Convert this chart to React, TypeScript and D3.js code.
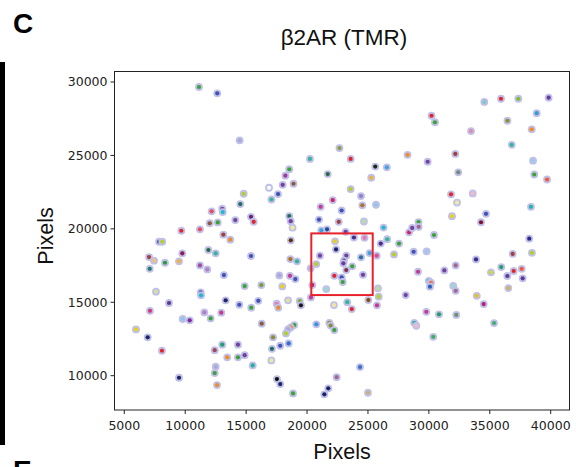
import React, { useEffect } from 'react';
import * as d3 from 'd3';

const xTicks = [5000, 10000, 15000, 20000, 25000, 30000, 35000, 40000];
const yTicks = [10000, 15000, 20000, 25000, 30000];

const pointX = [
  11130, 12630, 14470, 14800, 14520, 12170, 13040, 13080, 14110, 15400,
  15620, 12010, 12670, 9680, 11210, 13130, 13700, 7850, 8120, 16880,
  17080, 17620, 18000, 18220, 18540, 18890, 20240, 21700, 22660, 23580,
  28250, 25600, 26550, 25270, 23580, 24430, 22110, 21120, 22840, 24540,
  25660, 18540, 18660, 18810, 20980, 22600, 24670, 21640, 21170, 23170,
  26280, 26580, 28370, 28630, 18670, 22300, 23850, 24720, 26050, 27550,
  34550, 35920, 37340, 39830, 30220, 30500, 38850, 36450, 38440, 33460,
  36800, 32170, 29900, 38550, 32410, 38650, 39700, 31820, 33600, 32310,
  31900, 34690, 34280, 38380, 29150, 29160, 30420, 38240, 7030, 7440,
  8340, 7090, 9760, 9490, 11900, 12500, 11210, 11810, 15400, 13180,
  7600, 8670, 7110, 11270, 11300, 9790, 10370, 11570, 12090, 12960,
  13320, 14440, 14880, 15420, 16000, 16250, 16280, 5960, 6920, 8090,
  12420, 13040, 13450, 14330, 14330, 14880, 15540, 12500, 12420, 12610,
  9490, 22380, 18630, 19180, 21060, 20760, 20300, 23220, 23030, 22980,
  23220, 23710, 24430, 25140, 25720, 27140, 28750, 17720, 18600, 19040,
  22240, 22840, 22930, 24590, 20430, 17970, 21580, 25820, 25880, 25030,
  25740, 28100, 20320, 17510, 17640, 18440, 19400, 19500, 22210, 23300,
  23670, 20760, 21830, 21940, 22240, 18950, 18660, 18440, 18270, 17210,
  17120, 17800, 18490, 17070, 17530, 17800, 18850, 24350, 22430, 21740,
  21420, 25000, 28800, 28970, 29820, 36880, 38460, 33870, 32200, 31270,
  29110, 35940, 35100, 36440, 36960, 37620, 37700, 29990, 30170, 30090,
  32000, 32200, 33930, 36520, 34500, 29790, 30830, 32250, 35350, 30360,
];

const pointY = [
  29660, 29230, 26030, 22390, 21690, 21190, 21370, 21140, 20600, 20820,
  20480, 20380, 20440, 19870, 19970, 19600, 19260, 19120, 19120, 22800,
  22000, 22370, 23000, 23620, 24060, 23070, 24760, 23730, 25500, 24760,
  25040, 24240, 24190, 23480, 22710, 22230, 21960, 21500, 21250, 21600,
  21640, 20870, 20520, 20080, 20630, 20480, 20500, 19970, 19900, 19800,
  20090, 19290, 19760, 20060, 19220, 19150, 19410, 19390, 19000, 19000,
  28640, 28860, 28860, 28930, 27700, 27260, 27880, 27360, 26780, 26660,
  25720, 25100, 24570, 24640, 23850, 23700, 23360, 22350, 22410, 21790,
  20860, 21020, 20450, 21500, 20460, 20140, 19580, 19330, 18080, 17830,
  17690, 17280, 18330, 17790, 18560, 18330, 17510, 17240, 18150, 16850,
  15720, 14950, 14420, 15670, 15470, 13860, 13770, 14310, 13900, 14290,
  15130, 14830, 16100, 14630, 15100, 16170, 13540, 13150, 12610, 11700,
  11740, 12110, 11250, 12110, 11250, 11400, 10700, 10610, 10180, 9360,
  9860, 18600, 17940, 17790, 18170, 17600, 17310, 18170, 17830, 17650,
  17190, 17450, 18060, 18350, 18170, 18260, 18440, 16830, 16800, 16580,
  16800, 16700, 16380, 16870, 16170, 16080, 15900, 15950, 15380, 15150,
  14790, 15490, 15330, 14900, 14630, 15130, 15080, 14790, 14810, 15010,
  14540, 13500, 13600, 13410, 13110, 13450, 13290, 13150, 12880, 12610,
  11830, 12040, 12200, 11040, 9770, 9430, 8790, 10590, 9900, 9140,
  8730, 8840, 13600, 13400, 18470, 18300, 18370, 17920, 17510, 17170,
  17080, 17400, 17040, 16790, 17130, 17280, 16630, 16460, 16330, 16060,
  16120, 15780, 15440, 15970, 14880, 14350, 14180, 14140, 13580, 12650,
];

const pointColor = [
  '#3aa335', '#3f51b5', '#a8a8dc', '#b5cf2a', '#1e6b60', '#e84a5f', '#7440a0', '#22b8d0', '#7440a0', '#6b1f72',
  '#e3242b', '#8b5a3c', '#3aa335', '#e3242b', '#e84a5f', '#a04040', '#f08a24', '#3f51b5', '#b5cf2a', '#ffffff',
  '#33b39a', '#3f51b5', '#7440a0', '#a03a9a', '#3aa335', '#8b5a3c', '#33b39a', '#2a6a40', '#8aa040', '#e3242b',
  '#f08a24', '#1a2a1a', '#40a0e0', '#f0b040', '#b5cf2a', '#9080c8', '#d0206a', '#c23b8f', '#3f51b5', '#b07030',
  '#8ec5ea', '#1e6b60', '#7440a0', '#f2e9a0', '#3f51b5', '#a04040', '#b6e0a0', '#204a90', '#3aa0d8', '#7440a0',
  '#22b8d0', '#33b39a', '#d0206a', '#7440a0', '#5a3010', '#e8d020', '#4a2a8a', '#e07ab8', '#4a2a8a', '#3aa335',
  '#80c8c8', '#e3242b', '#7cc030', '#6a3a9a', '#e3242b', '#3aa335', '#3a9ad0', '#8c8c35', '#f08a24', '#e08aa8',
  '#33b39a', '#a04040', '#7440a0', '#a0c8e8', '#6f8f70', '#3aa335', '#f05a3a', '#e3242b', '#f0b8c8', '#f2e9a0',
  '#e8d020', '#3f51b5', '#801030', '#22b0b0', '#3aa335', '#a26690', '#3aa335', '#2a2a8a', '#a04040', '#f0c080',
  '#2a9a40', '#1e7b70', '#8a1a5a', '#f0b040', '#2a6a40', '#33b39a', '#a04aa0', '#b080c0', '#3f51b5', '#3f51b5',
  '#d0e0a0', '#5a3a8a', '#d03a70', '#3f51b5', '#22b8d0', '#8ec5ea', '#7a2a9a', '#b080c0', '#3aa335', '#c23b8f',
  '#1c2366', '#3f51b5', '#3aa335', '#3aa335', '#3f51b5', '#7a9a40', '#8b5a3c', '#e8d020', '#1c2366', '#e3242b',
  '#a04860', '#20a070', '#f08a24', '#7440a0', '#3aa335', '#7440a0', '#22b0a0', '#a8a8dc', '#3aa335', '#f08a24',
  '#1c2366', '#1c2366', '#b07020', '#33b39a', '#7440a0', '#b5cf2a', '#a8a8dc', '#7440a0', '#5a2a8a', '#6a3a9a',
  '#80304a', '#3aa335', '#2a70a0', '#40a0e0', '#e04a8a', '#b5cf2a', '#3f51b5', '#a8a8dc', '#c23b8f', '#3f51b5',
  '#e3242b', '#3f51b5', '#3aa335', '#7440a0', '#d0206a', '#e8d020', '#9ad8d0', '#b6e0a0', '#b5cf2a', '#8b4a10',
  '#c23b8f', '#7440a0', '#c23b8f', '#e07ab8', '#f08a24', '#e0e0a0', '#7ab030', '#1a1a1a', '#f2e9a0', '#33b39a',
  '#e3242b', '#3a90e0', '#8c8c35', '#8c8c35', '#3aa335', '#3aa335', '#f08a24', '#a8a8dc', '#b5cf2a', '#8c8c35',
  '#1e6b60', '#3f51b5', '#2a70d0', '#d8f0a0', '#111111', '#1c2366', '#3aa335', '#3a70c0', '#a26690', '#1c2366',
  '#1c2366', '#c8b070', '#22b0a0', '#f0b8c8', '#a0c8e8', '#a04040', '#b5cf2a', '#3a2a8a', '#a26690', '#7440a0',
  '#c23b8f', '#20a070', '#c8d840', '#5a3a9a', '#e3242b', '#f05a3a', '#5a3a9a', '#40c0e0', '#f0703a', '#2a60c0',
  '#9ad8d0', '#a26690', '#e8c020', '#d0b060', '#b0207a', '#c23b8f', '#20a060', '#6f8f70', '#40b070', '#40b060',
];

const boxX = [20350, 25390];
const boxY = [15490, 19690];

export default function App() {
  useEffect(() => {
    document.body.style.margin = '0';
  }, []);

  const W = 576;
  const H = 467;
  const left = 114.5;
  const right = 569.5;
  const top = 71.5;
  const bottom = 410;

  const x = d3.scaleLinear().domain([4196, 41543]).range([left, right]);
  const y = d3.scaleLinear().domain([7664, 30715]).range([bottom, top]);

  const tickFont = "'DejaVu Sans', sans-serif";
  const labelFont = "'Liberation Sans', Arial, sans-serif";

  return (
    <svg width={W} height={H} style={{ position: 'absolute', left: 0, top: 0, background: '#fff' }}>
      <rect x={0} y={0} width={W} height={H} fill="#fff" />
      {/* panel letter and side bar */}
      <text x={13} y={33} fontFamily={labelFont} fontWeight="bold" fontSize={28} fill="#000">C</text>
      <rect x={0} y={62} width={5} height={383} fill="#000" />
      <text x={13} y={480} fontFamily={labelFont} fontWeight="bold" fontSize={28} fill="#000">E</text>

      {/* title */}
      <text x={344} y={45} textAnchor="middle" fontFamily={labelFont} fontSize={22.5} fill="#111">β2AR (TMR)</text>

      {/* points */}
      <g>
        {pointX.map((px, i) => (
          <g key={i}>
            <circle cx={x(px)} cy={y(pointY[i])} r={3.9} fill="#c0c0e8" />
            <circle cx={x(px)} cy={y(pointY[i])} r={2.1} fill={pointColor[i]} />
          </g>
        ))}
      </g>

      {/* highlight box */}
      <rect
        x={x(boxX[0])}
        y={y(boxY[1])}
        width={x(boxX[1]) - x(boxX[0])}
        height={y(boxY[0]) - y(boxY[1])}
        fill="none"
        stroke="#e8222a"
        strokeWidth={2}
      />

      {/* frame */}
      <rect x={left} y={top} width={right - left} height={bottom - top} fill="none" stroke="#222" strokeWidth={1} />

      {/* x axis */}
      {xTicks.map((t) => (
        <g key={t} transform={`translate(${x(t)},${bottom})`}>
          <line y1={0} y2={4} stroke="#222" />
          <text y={20} textAnchor="middle" fontFamily={tickFont} fontSize={12.5} fill="#222">{t}</text>
        </g>
      ))}
      {/* y axis */}
      {yTicks.map((t) => (
        <g key={t} transform={`translate(${left},${y(t)})`}>
          <line x1={0} x2={-4} stroke="#222" />
          <text x={-7} dy="0.35em" textAnchor="end" fontFamily={tickFont} fontSize={12.5} fill="#222">{t}</text>
        </g>
      ))}

      {/* axis labels */}
      <text x={342} y={459} textAnchor="middle" fontFamily={labelFont} fontSize={21.5} fill="#111">Pixels</text>
      <text transform="translate(53,236) rotate(-90)" textAnchor="middle" fontFamily={labelFont} fontSize={21.5} fill="#111">Pixels</text>
    </svg>
  );
}
